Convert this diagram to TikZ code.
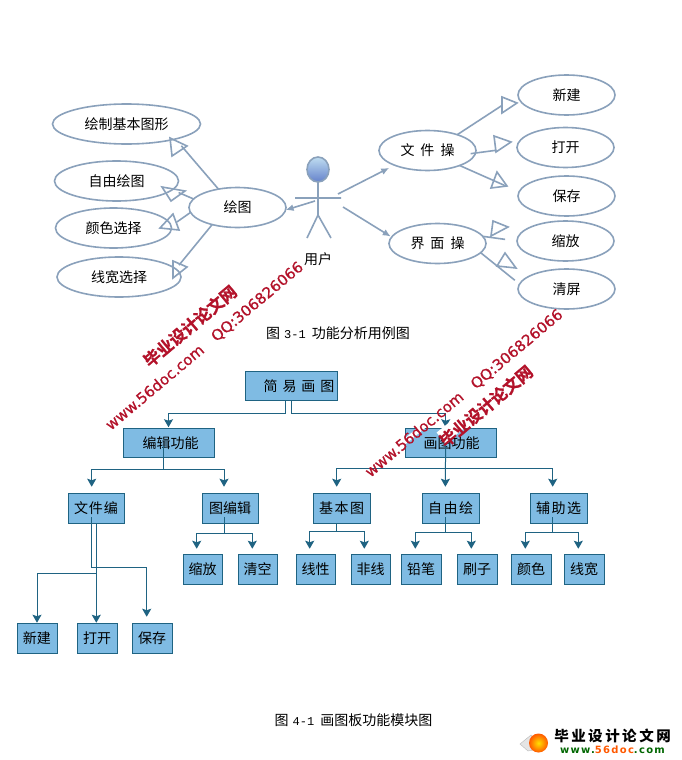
\documentclass[tikz,border=0pt]{standalone}
\usepackage{fontspec}
\setmainfont{Noto Sans CJK SC}
\newfontfamily\latfont{Liberation Mono}
\newfontfamily\wmfont[FakeBold=0.7]{DejaVu Sans}
\newfontfamily\wmcjk[FakeBold=1.2]{Noto Sans CJK SC Bold}
\newfontfamily\logofont[LetterSpace=13]{DejaVu Sans Bold}
\usetikzlibrary{shapes.geometric,arrows.meta,calc}
\definecolor{usecase}{HTML}{8AA1BB}
\definecolor{boxfill}{HTML}{7FBBE3}
\definecolor{boxline}{HTML}{1F6382}
\definecolor{wmred}{HTML}{B3122A}
\newcommand{\gp}[1][6pt]{\hspace{#1}}
\tikzset{
  x=1pt,y=-1pt,
  every node/.style={font=\fontsize{14}{14}\selectfont,inner sep=0pt,outer sep=0pt},
  uc/.style={ellipse,draw=usecase,line width=1.6pt,minimum height=40pt},
  link/.style={draw=usecase,line width=1.6pt},
  tri/.style={draw=usecase,line width=1.6pt,line join=miter},
  act/.style={draw=usecase,line width=1.6pt,-{Latex[length=8pt,width=7pt]}},
  modbox/.style={rectangle,draw=boxline,fill=boxfill,line width=.9pt,minimum height=29.5pt},
  flow/.style={draw=boxline,line width=1pt,-{Stealth[length=8pt,width=9pt,inset=1.5pt]}},
  mark1/.style={font=\wmfont\fontsize{15}{15}\selectfont,text=wmred,rotate=40},
  mark2/.style={font=\wmcjk\fontsize{16.5}{16.5}\selectfont,text=wmred,rotate=40},
}
\begin{document}
\begin{tikzpicture}
\useasboundingbox (0,0) rectangle (682,760);
\fill[white] (0,0) rectangle (682,760);

% --- use case diagram ---
\node[uc,minimum width=148pt] (basic) at (126.5,124) {绘制基本图形};
\node[uc,minimum width=124pt] (free) at (116.5,181) {自由绘图};
\node[uc,minimum width=116pt] (color) at (113.5,228) {颜色选择};
\node[uc,minimum width=124pt] (width) at (119,277) {线宽选择};
\node[uc,minimum width=97pt] (draw) at (237.5,207.5) {绘图};
\node[uc,minimum width=97pt] (fileop) at (427.5,150.5) {文\gp 件\gp 操};
\node[uc,minimum width=97pt] (uiop) at (437.5,243.5) {界\gp 面\gp 操};
\node[uc,minimum width=97pt] (new) at (566.5,95) {新建};
\node[uc,minimum width=97pt] (open) at (565.5,147.5) {打开};
\node[uc,minimum width=97pt] (save) at (566.5,196) {保存};
\node[uc,minimum width=97pt] (zoomc) at (565.5,241) {缩放};
\node[uc,minimum width=97pt] (clear) at (566.5,289) {清屏};

% actor
\node[ellipse,draw=usecase,line width=1.6pt,top color=boxfill!50!white,bottom color=boxfill!70!blue!70!gray,minimum width=22pt,minimum height=25pt] (head) at (318,169.5) {};
\coordinate (hip) at (318,215);
\coordinate (armL) at (295,198);
\coordinate (armR) at (341,198);
\coordinate (footL) at (307,238);
\coordinate (footR) at (331,238);
\draw[link] (head.south) -- (hip) (armL) -- (armR) (footL) -- (hip) -- (footR);
\node (user) at (318,259) {用户};

% actor associations
\coordinate (actW) at (315,201);
\coordinate (actE) at (338,194);
\coordinate (actS) at (343,207);
\draw[act] (actW) -- (draw.-3);
\draw[act,shorten >=6pt] (actE) -- (fileop.204.7);
\draw[act,shorten >=1pt] (actS) -- (uiop.172);

% generalisations, left
\draw[link,shorten >=9pt] (draw.136) -- (basic.-17);
\draw[tri] (170,138) -- (187,146) -- (172,156) -- cycle;
\draw[link,shorten >=7pt] (draw.169) -- (free.-9.8);
\draw[tri] (162,187) -- (185,191) -- (171,201) -- cycle;
\draw[link,shorten >=7pt] (draw.186.6) -- (color.2);
\draw[tri] (160,228) -- (173,214) -- (179,230) -- cycle;
\draw[link,shorten >=5pt] (draw.214) -- (width.8);
\draw[tri] (187,267) -- (173,261) -- (173,278) -- cycle;

% generalisations, right
\draw[link,shorten >=19.6pt] (fileop.28) -- (new.180);
\draw[tri] (517,103) -- (502,97) -- (502,113) -- cycle;
\draw[link,shorten <=-5pt,shorten >=21pt] (fileop.-3) -- (open.180);
\draw[tri] (511,142) -- (494,136) -- (496,152) -- cycle;
\draw[link,shorten >=14pt] (fileop.-25.5) -- (save.175);
\draw[tri] (497,172) -- (491,188) -- (507,186) -- cycle;
\draw[link,shorten >=12pt] (uiop.9) -- (zoomc.180);
\draw[tri] (493,221) -- (508,227) -- (491,236) -- cycle;
\draw[link,shorten >=6pt] (uiop.-12) -- (clear.174);
\draw[tri] (505,253) -- (516,268) -- (497,266) -- cycle;

\node (cap1) at (338,333) {图\gp[4pt]{\latfont\fontsize{12}{12}\selectfont 3-1}\gp[6pt]功能分析用例图};

% --- module chart ---
\node[modbox,minimum width=92pt] (root) at (291,386) {\hspace*{16pt}简\gp[5pt]易\gp[5pt]画\gp[5pt]图};
\node[modbox,minimum width=91pt] (edit) at (168.5,443) {\hspace*{4pt}编辑功能};
\node[modbox,minimum width=91pt] (paint) at (450.5,443) {\hspace*{2pt}画图功能};
\node[modbox,minimum width=56pt] (fileedit) at (96,508.5) {文\gp[1pt]件\gp[1pt]编};
\node[modbox,minimum width=56pt] (imgedit) at (230,508.5) {图编辑};
\node[modbox,minimum width=57pt] (shape) at (341.5,508.5) {基\gp[1.5pt]本\gp[1.5pt]图};
\node[modbox,minimum width=57pt] (freeh) at (450.5,508.5) {自\gp[1.5pt]由\gp[1.5pt]绘};
\node[modbox,minimum width=57pt] (aux) at (558.5,508.5) {辅\gp[1.5pt]助\gp[1.5pt]选};
\node[modbox,minimum width=40pt] (newb) at (37,638.5) {新建};
\node[modbox,minimum width=40pt] (openb) at (97,638.5) {打开};
\node[modbox,minimum width=40pt] (saveb) at (152,638.5) {保存};
\node[modbox,minimum width=39pt] (zoomb) at (202.5,569.5) {缩放};
\node[modbox,minimum width=39pt] (clearb) at (257.5,569.5) {清空};
\node[modbox,minimum width=39pt] (lin) at (315.5,569.5) {线性};
\node[modbox,minimum width=39pt] (nonlin) at (370.5,569.5) {非线};
\node[modbox,minimum width=40pt] (pencil) at (421,569.5) {铅笔};
\node[modbox,minimum width=40pt] (brush) at (477,569.5) {刷子};
\node[modbox,minimum width=40pt] (colb) at (531,569.5) {颜色};
\node[modbox,minimum width=40pt] (widb) at (584,569.5) {线宽};

% root
\draw[flow,shorten >=1pt] ([xshift=-5.3pt]root.south) -- ++(0,13) -| (edit.north);
\draw[flow,shorten >=1pt] ([xshift=.3pt]root.south) -- ++(0,13) -| ([xshift=-4.8pt]paint.north);
% edit
\draw[flow,shorten >=7pt] ([xshift=-5pt,yshift=-3pt]edit.center) -- ++(0,23) -| ([xshift=-4.3pt]fileedit.north);
\draw[flow,shorten >=7pt] ([xshift=-5pt,yshift=-3pt]edit.center) -- ++(0,23) -| ([xshift=-6pt]imgedit.north);
% paint
\draw[flow,shorten >=7pt] ([xshift=-4.8pt]paint.north) -- ([xshift=-5.2pt]freeh.north);
\coordinate (paintJoin) at ($([xshift=-4.8pt]paint.south)+(0,11)$);
\draw[flow,shorten >=7pt] (paintJoin) -| ([xshift=-4.8pt]shape.north);
\draw[flow,shorten >=7pt] (paintJoin) -| ([xshift=-5.8pt]aux.north);
% file edit
\draw[flow,shorten >=7pt] ([xshift=-4.3pt]fileedit.south) ++(0,-6) -- ++(0,50.7) -| ([xshift=-5.3pt]saveb.north);
\draw[flow,shorten >=1pt] ([xshift=.3pt]fileedit.south) -- ++(0,50) -| (newb.north);
\draw[flow,shorten >=1pt] ([xshift=.3pt]fileedit.south) -- ([xshift=-.7pt]openb.north);
% image edit
\draw[flow,shorten >=6pt] ([xshift=-6pt]imgedit.south) ++(0,-6) -- ++(0,16) -| ([xshift=-5.8pt]zoomb.north);
\draw[flow,shorten >=6pt] ([xshift=-6pt]imgedit.south) ++(0,-6) -- ++(0,16) -| ([xshift=-5.2pt]clearb.north);
% shape
\draw[flow,shorten >=6pt] ([xshift=-4.8pt]shape.south) -- ++(0,8.7) -| ([xshift=-5.8pt]lin.north);
\draw[flow,shorten >=6pt] ([xshift=-4.8pt]shape.south) -- ++(0,8.7) -| ([xshift=-6.2pt]nonlin.north);
% free
\draw[flow,shorten >=6pt] ([xshift=-5.2pt]freeh.south) ++(0,-6) -- ++(0,15) -| ([xshift=-5.7pt]pencil.north);
\draw[flow,shorten >=6pt] ([xshift=-5.2pt]freeh.south) ++(0,-6) -- ++(0,15) -| ([xshift=-5.7pt]brush.north);
% aux
\draw[flow,shorten >=6pt] ([xshift=-6.2pt]aux.south) ++(0,-6) -- ++(0,15) -| ([xshift=-5.7pt]colb.north);
\draw[flow,shorten >=6pt] ([xshift=-6.2pt]aux.south) ++(0,-6) -- ++(0,15) -| ([xshift=-5.7pt]widb.north);

\node (cap2) at (353.5,720.5) {图\gp[4pt]{\latfont\fontsize{12}{12}\selectfont 4-1}\gp[6pt]画图板功能模块图};

% --- watermarks ---
\draw[white,line width=5pt] (403,443) -- (425,425);
\draw[white,line width=14pt] (441,438) -- (467,417);
\node[mark1] (wa1) at (154.5,387) {www.56doc.com};
\node[mark1] (wb1) at (257.5,302) {QQ:306826066};
\node[mark2] (wc1) at (190,326) {毕业设计论文网};
\node[mark1] (wa2) at (414,434) {www.56doc.com};
\node[mark1] (wb2) at (517,349.5) {QQ:306826066};
\node[mark2] (wc2) at (486,406) {毕业设计论文网};

% --- logo ---
\fill[gray!20,draw=gray!55,line width=.4pt] (520,744) -- (531,735) -- (536,741) -- (533,750) -- (528,751) -- cycle;
\shade[inner color=yellow!75!orange,outer color=orange!70!red] (538.5,743) circle (9.5);
\node[font=\bfseries\fontsize{14.5}{14.5}\selectfont] (logo1) at (612.5,736) {毕\gp[2.5pt]业\gp[2.5pt]设\gp[2.5pt]计\gp[2.5pt]论\gp[2.5pt]文\gp[2.5pt]网};
\node[font=\logofont\fontsize{10}{10}\selectfont,text=green!40!black] (logo2) at (612.5,750) {www.{\color{orange!70!red}56doc}.com};
\end{tikzpicture}
\end{document}
